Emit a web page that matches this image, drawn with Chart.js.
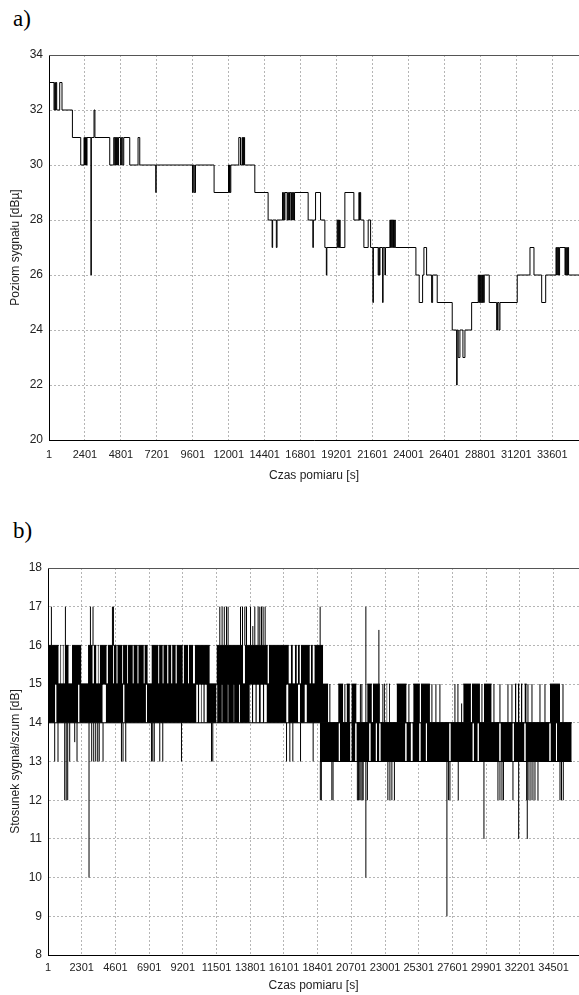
<!DOCTYPE html>
<html>
<head>
<meta charset="utf-8">
<script src="https://cdn.jsdelivr.net/npm/chart.js"></script>
<style>
  body { margin: 0; background: #fff; width: 579px; height: 995px; overflow: hidden; position: relative; }
  .podpis { position: absolute; font-family: 'Liberation Serif', 'Times New Roman', serif; font-size: 23px; color: #000; line-height: 1.15; }
  canvas { position: absolute; left: 0; }
</style>
</head>
<body>
<div class="podpis" style="left:13px; top:6px">a)</div>
<canvas id="wykres_poziom" width="579" height="445" style="top:40px"></canvas>
<div class="podpis" style="left:13px; top:518px">b)</div>
<canvas id="wykres_snr" width="579" height="445" style="top:550px"></canvas>
<script>
// ---- a) poziom sygnału: czas zmiany [s] i nowy poziom [dBµ] ----
const czasA = [1, 335, 382, 429, 469, 515, 716, 869, 1564, 2119, 2339, 2372, 2406, 2439, 2473, 2506, 2539, 2800, 2827, 3007, 3067,
  4056, 4323, 4390, 4424, 4457, 4490, 4523, 4557, 4590, 4637, 4771, 4837, 4924, 4991, 5392, 5946, 6060, 7129, 7155,
  9580, 9634, 9700, 9781, 11023, 11985, 12018, 12052, 12092, 12139, 12673, 12787, 12893, 12927, 12960, 12994, 13027, 13060,
  13742, 14630, 14897, 14931, 15178, 15225, 15592, 15632, 15673, 15713, 15753, 15899, 15940, 15980, 16020, 16060, 16100,
  16193, 16233, 16273, 16314, 16354, 16394, 17302, 17616, 17650, 17797, 18131, 18418, 18518, 18551, 19239, 19280, 19320,
  19360, 19400, 19440, 19754, 20355, 20689, 20729, 20769, 20809, 21023, 21310, 21471, 21624, 21658, 21978, 22018, 22058,
  22098, 22272, 22306, 22426, 22466, 22760, 22800, 22840, 22880, 22920, 22960, 23000, 23040, 23080, 23120, 24497, 24717,
  24944, 25031, 25211, 25545, 25612, 25919, 26921, 27215, 27249, 27322, 27436, 27636, 27770, 28217, 28658, 28698, 28739,
  28779, 28819, 28859, 28899, 28939, 28979, 29019, 29059, 29393, 29887, 29941, 30041, 30108, 31263, 32112, 32379, 32893,
  33161, 33849, 33889, 33929, 33969, 34009, 34049, 34089, 34450, 34490, 34530, 34570, 34610, 34650, 34690, 35385];
const poziomA = [33, 32, 33, 32, 33, 32, 33, 32, 31, 30, 31, 30, 31, 30, 31, 30, 31, 26, 31, 32, 31,
  30, 31, 30, 31, 30, 31, 30, 31, 30, 31, 30, 31, 30, 31, 30, 31, 30, 29, 30,
  29, 30, 29, 30, 29, 30, 29, 30, 29, 30, 31, 30, 31, 30, 31, 30, 31, 30,
  29, 28, 27, 28, 27, 28, 29, 28, 29, 28, 29, 28, 29, 28, 29, 28, 29,
  28, 29, 28, 29, 28, 29, 28, 27, 28, 29, 28, 27, 26, 27, 28, 27, 28,
  27, 28, 27, 29, 28, 29, 28, 29, 28, 27, 28, 27, 25, 27, 26, 27, 26,
  27, 25, 27, 26, 27, 28, 27, 28, 27, 28, 27, 28, 27, 28, 27, 26, 25,
  26, 27, 26, 25, 26, 25, 24, 22, 24, 23, 24, 23, 24, 25, 26, 25, 26,
  25, 26, 25, 26, 25, 26, 25, 26, 25, 24, 25, 24, 25, 26, 27, 26, 25,
  26, 27, 26, 27, 26, 27, 26, 27, 26, 27, 26, 27, 26, 27, 26, 26];
const podzialkaA = [1, 2401, 4801, 7201, 9601, 12001, 14401, 16801, 19201, 21601, 24001, 26401, 28801, 31201, 33601];

// ---- b) stosunek sygnał/szum: pasma szybkich przełączeń [od, do] ----
const pasmo15_16 = [[1, 731], [834, 902], [1005, 1073], [1141, 1414], [1639, 2281], [2732, 3053], [3121, 3305], [3394, 3462],
  [3531, 4008], [4077, 4439], [4480, 4690], [4730, 5080], [5120, 5420], [5460, 5790], [5830, 6120], [6160, 6540], [6580, 6808],
  [7060, 7540], [7580, 7832], [7870, 8150], [8200, 8420], [8470, 8720], [8770, 9200], [9260, 9560], [9610, 9900],
  [10016, 11040], [11498, 13314], [13430, 15000], [15068, 16434], [16570, 16707],
  [16843, 16980], [17048, 17185], [17253, 17867], [17936, 18072], [18174, 18775]];
const pasmo14_15 = [[1, 493], [561, 2063], [2131, 3735], [3940, 5135], [5203, 6685], [6753, 10132], [10221, 10323], [10426, 10494],
  [10597, 10699], [10815, 11498], [11540, 11840], [11890, 12250], [12300, 12650], [12700, 13050],
  [13088, 13771], [13908, 14010], [14146, 14249], [14385, 14522], [14659, 14761], [14911, 16277],
  [16386, 17069], [17185, 17526], [17642, 19117], [19799, 20141], [20373, 20598], [20701, 21055], [21779, 22100], [22168, 22646],
  [22919, 22987], [23090, 23158], [23261, 23329], [23786, 24469], [24920, 25377], [25445, 26060], [28333, 28859], [28927, 29473],
  [29746, 30272], [31863, 31965], [32067, 32170], [32272, 32375], [32511, 32661], [34252, 34935]];
const pasmo13_14 = [[18550, 19847], [19915, 20632], [20701, 20974], [21042, 21929], [21998, 22373], [22441, 22612], [22680, 24387],
  [24455, 24763], [24865, 25343], [25411, 25787], [25855, 27391], [27459, 28982], [29050, 29323], [29391, 30804], [30873, 31712],
  [31781, 32511], [32579, 34218], [34286, 34662], [34730, 35734]];
// pojedyncze skoki: [czas, od, do]
const skokiGora = [[233, 16, 17], [1189, 16, 17], [2896, 16, 17], [3073, 16, 17], [4398, 16, 17], [4466, 16, 17], [11723, 16, 17],
  [11880, 16, 17], [12030, 16, 17], [12180, 16, 17], [12290, 16, 17], [13136, 16, 17], [13273, 16, 17], [13430, 16, 17],
  [13546, 16, 17], [13819, 16, 17], [13976, 16, 16.5], [14112, 16, 17], [14338, 16, 17], [14454, 16, 17], [14570, 16, 17],
  [14679, 16, 17], [14816, 16, 17], [18570, 16, 17], [21690, 10, 17], [22578, 15, 16.4]];
const skokiDol = [[458, 13, 14], [684, 13, 14], [1141, 12, 14], [1244, 12, 14], [1346, 12, 14], [1482, 13, 14], [1824, 13.5, 14],
  [1981, 13, 14], [2800, 10, 14], [2984, 13, 14], [3121, 13, 14], [3257, 13, 14], [3394, 13, 14], [3496, 13, 14], [3756, 13, 14],
  [5012, 13, 14], [5121, 13, 14], [5306, 13, 14], [7060, 13, 14], [7149, 13, 14], [7251, 13, 14], [7627, 13, 14], [7832, 13, 14],
  [9108, 13, 14], [11156, 13, 14], [11245, 13, 14], [16277, 13, 14], [16502, 13, 14], [16707, 13, 14], [17232, 13, 14],
  [18093, 13, 14], [18584, 12, 13], [18652, 12, 13], [19369, 12, 13], [19451, 12, 13], [21110, 12, 13], [21192, 12, 13],
  [21274, 12, 13], [21356, 12, 13], [21438, 12, 13], [21506, 12, 13], [21793, 12, 13], [23192, 12, 13], [23329, 12, 13],
  [23465, 12, 13], [23636, 12, 13], [27220, 9, 13], [27323, 12, 13], [27425, 12, 13], [27992, 12, 13], [29746, 11, 13],
  [30702, 12, 13], [30839, 12, 13], [30975, 12, 13], [31077, 12, 13], [31726, 12, 13], [32115, 11, 13], [32661, 12, 13],
  [32702, 11, 13], [32818, 12, 13], [32955, 12, 13], [33091, 12, 13], [33228, 12, 13], [33433, 12, 13], [34935, 12, 13],
  [35037, 12, 13], [35160, 12, 13]];
const skoki14_15 = [[11860, 14, 15], [12269, 14, 15], [12679, 14, 15], [19233, 14, 15], [20257, 14, 15], [21315, 14, 15],
  [21417, 14, 15], [22851, 14, 15], [24626, 14, 15], [26196, 14, 15], [26469, 14, 15], [26742, 14, 15], [27766, 14, 15],
  [27971, 14, 15], [28224, 14, 14.5], [29610, 14, 15], [30429, 14, 15], [30839, 14, 15], [31385, 14, 15], [31658, 14, 15],
  [32750, 14, 15], [33023, 14, 15], [33569, 14, 15], [33911, 14, 15], [35140, 14, 15]];
// poziomy spoczynkowe: [od, do, poziom]
const poziomyB = [[1, 18550, 15], [1, 18550, 14], [18550, 35734, 14], [18550, 35734, 13]];
const podzialkaB = [1, 2301, 4601, 6901, 9201, 11501, 13801, 16101, 18401, 20701, 23001, 25301, 27601, 29901, 32201, 34501];

const czcionka = "'Liberation Sans', Arial, sans-serif";
const czcionkaWaska = "'Liberation Sans Narrow', 'Liberation Sans', Arial, sans-serif";

// górna linia ramki wykresu
const ramka = {
  id: 'ramka',
  afterDraw(chart) {
    const { ctx, chartArea } = chart;
    ctx.save();
    ctx.strokeStyle = '#555';
    ctx.lineWidth = 1;
    ctx.beginPath();
    ctx.moveTo(chartArea.left, Math.round(chartArea.top) + 0.5);
    ctx.lineTo(chartArea.right, Math.round(chartArea.top) + 0.5);
    ctx.stroke();
    ctx.restore();
  }
};

function skalaX(max, podzialka, wysokosc, odstep, odstepTytulu) {
  return {
    type: 'linear',
    min: 1,
    max: max,
    afterBuildTicks: s => { s.ticks = podzialka.map(v => ({ value: v })); },
    afterFit: s => { s.height = wysokosc; },
    ticks: {
      autoSkip: false, maxRotation: 0, padding: odstep, color: '#222',
      font: { family: czcionkaWaska, size: 11 },
      callback: v => String(v)
    },
    grid: { color: '#b5b5b5', drawTicks: false },
    border: { display: true, color: '#000', width: 1, dash: [2, 2] },
    title: {
      display: true, text: 'Czas pomiaru [s]', color: '#222',
      font: { family: czcionka, size: 12 }, padding: { top: 0, bottom: odstepTytulu }
    }
  };
}

function skalaY(min, max, krok, tytul, szerokosc) {
  return {
    min: min,
    max: max,
    afterFit: s => { s.width = szerokosc; },
    ticks: { stepSize: krok, autoSkip: false, padding: 6, color: '#222', font: { family: czcionka, size: 12 } },
    grid: { color: '#b5b5b5', drawTicks: false },
    border: { display: true, color: '#000', width: 1, dash: [2, 2] },
    title: {
      display: true, text: tytul, color: '#222',
      font: { family: czcionka, size: 12 }, padding: { top: 8, bottom: 0 }
    }
  };
}

const wspolne = {
  responsive: false,
  animation: false,
  events: [],
  plugins: { legend: { display: false }, tooltip: { enabled: false } }
};

// Wykres a) – przebieg schodkowy
function rysujPoziom() {
  const ctx = document.getElementById('wykres_poziom').getContext('2d');
  new Chart(ctx, {
    type: 'line',
    data: {
      datasets: [{
        data: czasA.map((t, i) => ({ x: t, y: poziomA[i] })),
        stepped: true,
        borderColor: '#000',
        borderWidth: 1,
        pointRadius: 0,
        fill: false
      }]
    },
    options: {
      ...wspolne,
      layout: { padding: { top: 15, right: 0, bottom: 0, left: 0 } },
      scales: {
        x: skalaX(35385, podzialkaA, 45, 8, 2),
        y: skalaY(20, 34, 2, 'Poziom sygnału [dBµ]', 49)
      }
    },
    plugins: [ramka]
  });
}

// Wykres b) – pasma, skoki i poziomy
function rysujSNR() {
  const ctx = document.getElementById('wykres_snr').getContext('2d');
  const zestawy = [];
  const pasma = [[pasmo15_16, 15, 16], [pasmo14_15, 14, 15], [pasmo13_14, 13, 14]];
  pasma.forEach(([lista, dol, gora]) => {
    lista.forEach(([od, doo]) => {
      zestawy.push({
        data: [{ x: od, y: gora }, { x: doo, y: gora }],
        borderColor: '#000', borderWidth: 1, pointRadius: 0,
        backgroundColor: '#000',
        fill: { value: dol }
      });
    });
  });
  const skoki = [...skokiGora, ...skokiDol, ...skoki14_15];
  zestawy.push({
    data: skoki.flatMap(([t, od, doo]) => [{ x: t, y: od }, { x: t, y: doo }, { x: t, y: null }]),
    borderColor: '#000', borderWidth: 1, pointRadius: 0, spanGaps: false, fill: false
  });
  zestawy.push({
    data: poziomyB.flatMap(([od, doo, p]) => [{ x: od, y: p }, { x: doo, y: p }, { x: doo, y: null }]),
    borderColor: '#000', borderWidth: 1, pointRadius: 0, spanGaps: false, fill: false
  });

  new Chart(ctx, {
    type: 'line',
    data: { datasets: zestawy },
    options: {
      ...wspolne,
      layout: { padding: { top: 18, right: 0, bottom: 0, left: 0 } },
      scales: {
        x: skalaX(36232, podzialkaB, 40, 6, 2),
        y: skalaY(8, 18, 1, 'Stosunek sygnał/szum [dB]', 48)
      }
    },
    plugins: [ramka]
  });
}

rysujPoziom();
rysujSNR();
</script>
</body>
</html>
